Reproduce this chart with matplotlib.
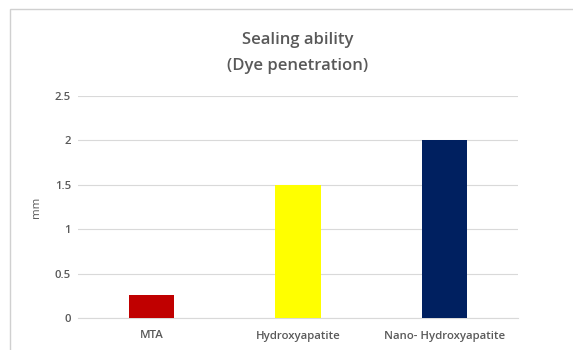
import matplotlib.pyplot as plt
from matplotlib.patches import Rectangle

categories = ['MTA', 'Hydroxyapatite', 'Nano- Hydroxyapatite']
dye_penetration = [0.26, 1.5, 2.0]
bar_colors = ['#C00000', '#FFFF00', '#002060']
y_ticks = [0, 0.5, 1, 1.5, 2, 2.5]

plt.rcParams['font.family'] = ['Open Sans', 'DejaVu Sans']

fig = plt.figure(figsize=(5.73, 3.5), dpi=100)
fig.patches.append(Rectangle((10 / 573, -0.1), 1.2, 1 - 9 / 350 + 0.1,
                             transform=fig.transFigure, fill=False,
                             edgecolor='#D0D0D0', linewidth=1))
ax = fig.add_axes([78 / 573, 1 - 318 / 350, 440 / 573, 222 / 350])

x = range(len(categories))
ax.bar(x, dye_penetration, width=0.31, color=bar_colors, zorder=3)
ax.set_xlim(-0.5, len(categories) - 0.5)
ax.set_ylim(0, 2.5)
ax.set_yticks(y_ticks)
ax.set_yticklabels([f'{t:g}' for t in y_ticks])
ax.set_xticks(list(x))
ax.set_xticklabels(categories)
ax.tick_params(axis='both', length=0, labelsize=8.2, labelcolor='#595959')
for lbl in ax.get_xticklabels() + ax.get_yticklabels():
    lbl.set_fontweight('semibold')
ax.tick_params(axis='y', pad=5)
ax.tick_params(axis='x', pad=9)
ax.grid(axis='y', color='#D9D9D9', linewidth=0.8, zorder=0)
for side in ['top', 'right', 'left']:
    ax.spines[side].set_visible(False)
ax.spines['bottom'].set_color('#D9D9D9')
ax.set_ylabel('mm', fontsize=8.2, color='#595959', labelpad=9)

fig.text(298 / 573, 1 - 40 / 350, 'Sealing ability', ha='center', va='center',
         fontsize=12, fontweight='semibold', color='#595959')
fig.text(298 / 573, 1 - 66 / 350, '(Dye penetration)', ha='center', va='center',
         fontsize=12, fontweight='semibold', color='#595959')

fig.savefig('out.png', dpi=100)
